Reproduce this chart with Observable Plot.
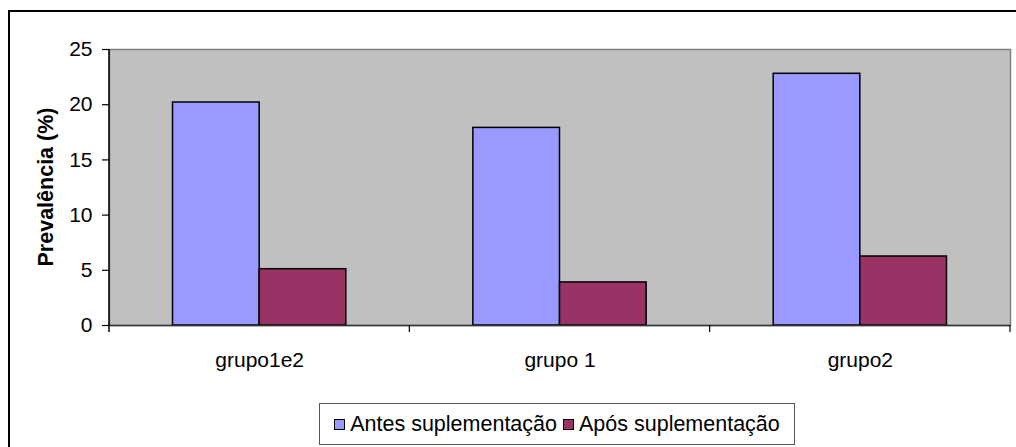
<!DOCTYPE html>
<html>
<head>
<meta charset="utf-8">
<script src="https://cdn.jsdelivr.net/npm/d3@7"></script>
<script src="https://cdn.jsdelivr.net/npm/@observablehq/plot@0.6"></script>
<style>
  html, body { margin: 0; padding: 0; background: #fff; }
  #wrap { position: relative; width: 1016px; height: 447px; overflow: hidden; background: #fff; font-family: "Liberation Sans", Arial, sans-serif; }
  #outer { position: absolute; left: 8px; top: 10px; width: 1100px; height: 600px; border-left: 2px solid #000; border-top: 2px solid #000; box-sizing: border-box; }
  #chart { position: absolute; left: 0; top: 0; }
  #legend { position: absolute; left: 319px; top: 403px; width: 476px; height: 42px; box-sizing: border-box; border: 1px solid #555; background: #fff; display: flex; align-items: center; justify-content: center; font-size: 21.5px; color: #000; white-space: nowrap; }
  .item { display: flex; align-items: center; margin: 0 3px; }
  .sw { width: 9px; height: 9px; border: 1px solid #000; margin-right: 5px; }
</style>
</head>
<body>
<div id="wrap">
  <div id="outer"></div>
  <div id="chart"></div>
  <div id="legend"></div>
</div>
<script>
// ---- data ----
const categories = ["grupo1e2", "grupo 1", "grupo2"];
const seriesNames = ["Antes suplementação", "Após suplementação"];
const antes = [20.2, 17.9, 22.8];
const apos = [5.1, 3.9, 6.25];
const yTicks = [0, 5, 10, 15, 20, 25];
const colors = ["#9999ff", "#993366"];

const table = categories.flatMap((c, i) => [
  {cat: c, series: seriesNames[0], value: antes[i]},
  {cat: c, series: seriesNames[1], value: apos[i]}
]);

// ---- layout ----
const W = 1016, H = 390;
const ML = 109, MR = 6, MT = 49, MB = 65;
const PI = 0.423, PO = 0.2115;
const step = (W - ML - MR) / categories.length;
const half = step * (1 - PI) / 2;
const FONT = "Liberation Sans, Arial, sans-serif";

const chart = Plot.plot({
  width: W,
  height: H,
  marginLeft: ML,
  marginRight: MR,
  marginTop: MT,
  marginBottom: MB,
  style: {fontFamily: FONT, fontSize: "21px", color: "#000", background: "transparent", overflow: "visible"},
  x: {domain: categories, paddingInner: PI, paddingOuter: PO, align: 0.5, round: false},
  y: {domain: [0, 25]},
  color: {domain: seriesNames, range: colors},
  marks: [
    Plot.frame({fill: "#c0c0c0", stroke: "#808080", strokeWidth: 1.5}),
    Plot.barY(table.filter(d => d.series === seriesNames[0]), {x: "cat", y: "value", fill: "series", stroke: "#000", strokeWidth: 1.5, insetRight: half}),
    Plot.barY(table.filter(d => d.series === seriesNames[1]), {x: "cat", y: "value", fill: "series", stroke: "#000", strokeWidth: 1.5, insetLeft: half}),
    Plot.ruleY([0], {stroke: "#333", strokeWidth: 1.5}),
    Plot.axisY({ticks: yTicks, tickSize: 7, tickPadding: 10, label: null, tickFormat: d => String(d), stroke: "#000", strokeWidth: 1.2}),
    Plot.axisX({tickSize: 0, tickPadding: 27, label: null})
  ]
});
document.getElementById("chart").appendChild(chart);

// ---- axis lines, boundary ticks and y title from the Plot scales ----
const xs = chart.scale("x");
const ys = chart.scale("y");
const svg = d3.select(chart);
const y0 = ys.apply(0), yTop = ys.apply(25);
const gap = (xs.step - xs.bandwidth) / 2;
const bounds = categories.map(c => xs.apply(c) - gap);
bounds.push(xs.apply(categories[categories.length - 1]) + xs.bandwidth + gap);
const g = svg.append("g");
g.append("line").attr("x1", bounds[0]).attr("x2", bounds[0]).attr("y1", yTop).attr("y2", y0 + 7)
  .attr("stroke", "#000").attr("stroke-width", 1.5);
g.selectAll("line.bt").data(bounds.slice(1)).join("line").attr("class", "bt")
  .attr("x1", d => d).attr("x2", d => d).attr("y1", y0).attr("y2", y0 + 7)
  .attr("stroke", "#000").attr("stroke-width", 1.2);
svg.append("text")
  .attr("transform", `translate(45,${(y0 + yTop) / 2}) rotate(-90)`)
  .attr("text-anchor", "middle").attr("dy", "0.35em")
  .attr("font-family", FONT).attr("font-size", "21.5px").attr("font-weight", "bold")
  .attr("fill", "#000")
  .text("Prevalência (%)");

// ---- legend ----
const legend = document.getElementById("legend");
seriesNames.forEach((s, i) => {
  const item = document.createElement("span");
  item.className = "item";
  const sw = document.createElement("span");
  sw.className = "sw";
  sw.style.background = colors[i];
  const t = document.createElement("span");
  t.textContent = s;
  item.appendChild(sw);
  item.appendChild(t);
  legend.appendChild(item);
});
</script>
</body>
</html>
